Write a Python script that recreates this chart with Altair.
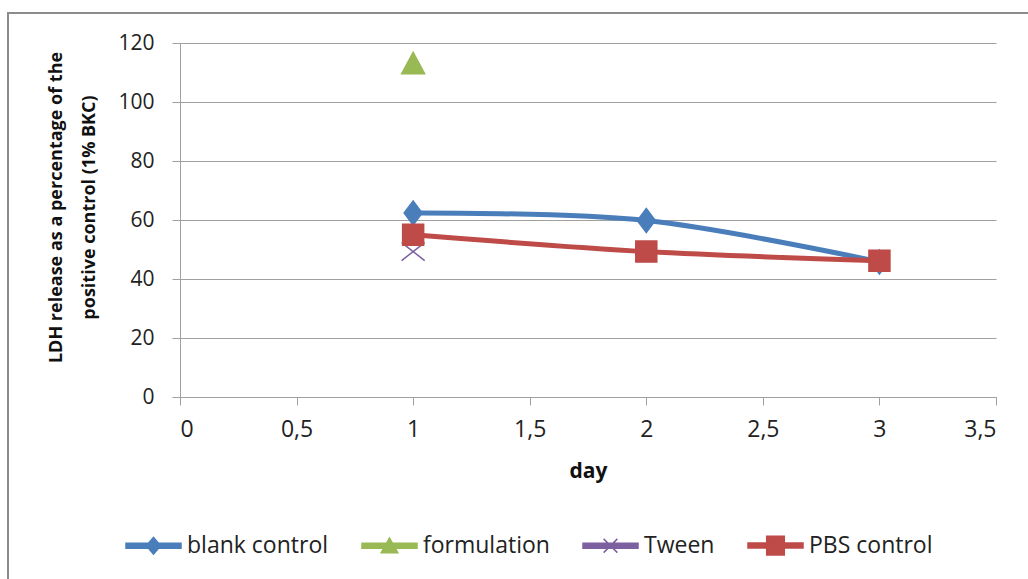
import altair as alt
import pandas as pd

# LDH release (% of 1% BKC positive control) per day and treatment
series_order = ["blank control", "formulation", "Tween", "PBS control"]
series_colors = ["#4a7ebb", "#98b954", "#7d60a0", "#be4b48"]

blank_days = [1, 2, 3]
blank_values = [62.4, 59.8, 45.8]
formulation_days = [1]
formulation_values = [113.2]
tween_days = [1]
tween_values = [49.3]
pbs_days = [1, 2, 3]
pbs_values = [55.0, 49.3, 46.2]

x_ticks = [0, 0.5, 1, 1.5, 2, 2.5, 3, 3.5]
y_ticks = [0, 20, 40, 60, 80, 100, 120]

rows = []
for name, days, vals in [
    ("blank control", blank_days, blank_values),
    ("formulation", formulation_days, formulation_values),
    ("Tween", tween_days, tween_values),
    ("PBS control", pbs_days, pbs_values),
]:
    for d, v in zip(days, vals):
        rows.append({"series": name, "day": d, "value": v})
df = pd.DataFrame(rows)

# marker outlines in unit box coordinates
plot_shapes = [
    "M-0.75,0L0,-1L0.75,0L0,1Z",
    "M-0.96,0.9L0,-0.9L0.96,0.9Z",
    "M-0.96,-0.75L0.96,0.75M-0.96,0.75L0.96,-0.75",
    "M-0.875,-0.875H0.875V0.875H-0.875Z",
]
# legend keys: a short line segment with the marker on top
bar = "M-1,-0.09H1V0.09H-1Z "
legend_shapes = [
    bar + "M-0.26,0L0,-0.3L0.26,0L0,0.3Z",
    bar + "M-0.3,0.25L0,-0.28L0.3,0.25Z",
    bar + "M-0.25,-0.25L0.25,0.25M-0.25,0.25L0.25,-0.25",
    bar + "M-0.32,-0.34H0.32V0.34H-0.32Z",
]

FONT = "Open Sans"
GRID = "#a0a0a0"

x_enc = alt.X(
    "day:Q",
    scale=alt.Scale(domain=[0, 3.5], nice=False, zero=False),
    axis=alt.Axis(
        values=x_ticks, title="day", grid=False,
        labelExpr="replace(format(datum.value, '.1~f'), '.', ',')",
        domainColor=GRID, tickColor=GRID, tickSize=8, labelPadding=13,
        labelFontSize=23, labelColor="#222", labelFont=FONT,
        titleFontSize=21, titleFont=FONT, titleFontWeight="bold", titleColor="#111", titlePadding=19,
    ),
)
y_enc = alt.Y(
    "value:Q",
    scale=alt.Scale(domain=[0, 120], nice=False),
    axis=alt.Axis(
        values=y_ticks, title=["LDH release as a percentage of the", "positive control (1% BKC)"],
        gridColor=GRID, domainColor=GRID, tickColor=GRID, tickSize=8, labelPadding=18,
        labelFontSize=21, labelColor="#222", labelFont=FONT,
        titleFontSize=18, titleFont=FONT, titleFontWeight="bold", titleColor="#111",
        titlePadding=19, titleLineHeight=33, titleY=164,
    ),
)

color_scale = alt.Scale(domain=series_order, range=series_colors)

lines = alt.Chart(df).mark_line(interpolate="catmull-rom", strokeWidth=5).encode(
    x=x_enc, y=y_enc,
    color=alt.Color("series:N", scale=color_scale, legend=None),
    detail="series:N",
)

points = alt.Chart(df).mark_point(filled=False, strokeWidth=1.5, opacity=1, size=576).encode(
    x="day:Q", y="value:Q",
    fill=alt.Fill("series:N", scale=color_scale, legend=None),
    stroke=alt.Stroke("series:N", scale=color_scale, legend=None),
    shape=alt.Shape("series:N", scale=alt.Scale(domain=series_order, range=plot_shapes), legend=None),
)

legend_layer = alt.Chart(df).transform_filter("false").mark_point(filled=False, strokeWidth=1.5).encode(
    x="day:Q", y="value:Q",
    fill=alt.Fill("series:N", scale=color_scale, legend=alt.Legend(title=None)),
    stroke=alt.Stroke("series:N", scale=color_scale, legend=alt.Legend(title=None)),
    shape=alt.Shape(
        "series:N",
        scale=alt.Scale(domain=series_order, range=legend_shapes),
        legend=alt.Legend(
            title=None, orient="none", direction="horizontal", columns=4,
            legendX=-55, legendY=474, symbolSize=3025, symbolStrokeWidth=1.5,
            labelFontSize=23, labelFont=FONT, labelColor="#222", labelOffset=5,
            columnPadding=30, symbolOpacity=1,
        ),
    ),
)

frame = alt.Chart(pd.DataFrame({"k": [0]})).mark_rect(
    filled=False, stroke="#8c8c8c", strokeWidth=2
).encode(
    x=alt.value(-172), x2=alt.value(870), y=alt.value(-30), y2=alt.value(560)
)

chart = alt.layer(frame, lines, points, legend_layer).resolve_scale(
    shape="independent", fill="independent", stroke="independent"
).properties(
    width=816, height=354,
    autosize=alt.AutoSizeParams(type="none"),
    padding={"left": 180, "top": 43, "right": 32, "bottom": 182},
    background="white",
).configure_view(stroke=None)

chart.save("out.html", embed_options={"renderer": "svg", "actions": False})
